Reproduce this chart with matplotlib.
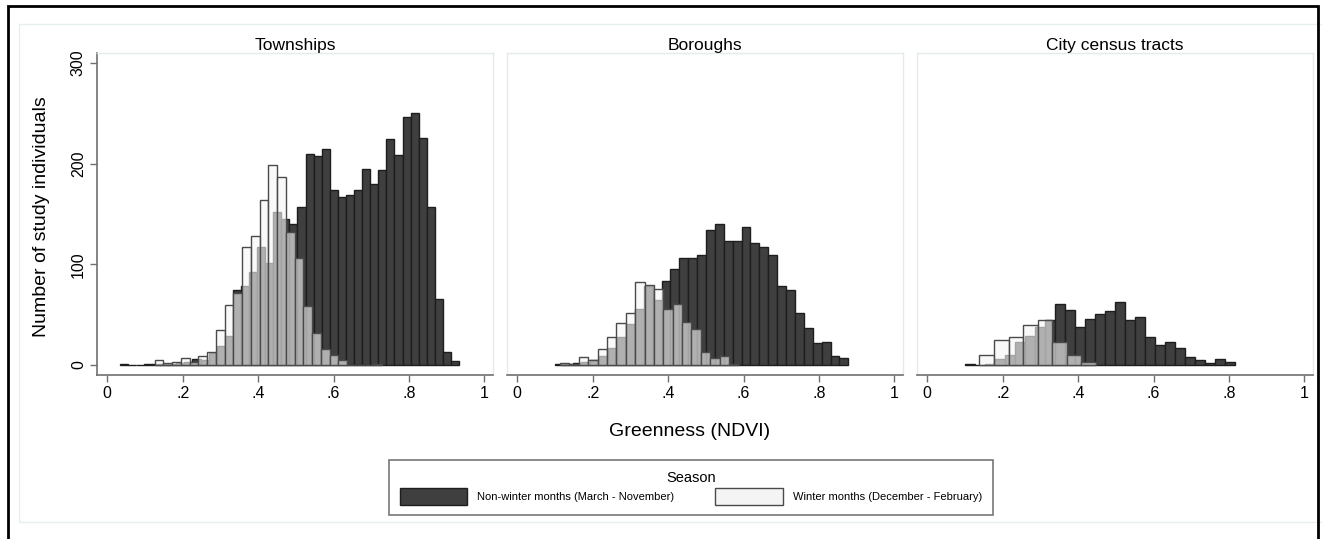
import numpy as np
import matplotlib.pyplot as plt
from matplotlib.patches import Patch, Rectangle

plt.rcParams['font.family'] = ['Liberation Sans', 'DejaVu Sans']

panels = ['Townships', 'Boroughs', 'City census tracts']

# non-winter months (March - November): bin start, bin width, counts
dark_start = [0.033, 0.0993, 0.1005]
dark_width = [0.02143, 0.0236, 0.02654]
twp_dark = [1, 0, 0, 1, 1, 1, 1, 2, 3, 6, 5, 12, 19, 29, 74, 78, 92, 117, 101, 152,
            145, 140, 157, 210, 208, 215, 174, 167, 169, 174, 195, 180, 194, 225, 209,
            246, 250, 226, 157, 66, 13, 4]
bor_dark = [1, 1, 2, 3, 5, 9, 17, 28, 41, 56, 78, 65, 83, 95, 106, 106, 109, 134, 140,
            123, 123, 137, 121, 117, 109, 78, 74, 52, 37, 22, 23, 9, 7]
cen_dark = [1, 0, 1, 6, 10, 23, 29, 38, 45, 61, 55, 38, 46, 51, 54, 63, 45, 48, 28, 20,
            23, 17, 8, 5, 2, 6, 3]

# winter months (December - February)
win_start = [0.1254, 0.1133, 0.138]
win_width = [0.0232, 0.0249, 0.0387]
twp_win = [5, 2, 3, 7, 3, 9, 13, 35, 60, 71, 117, 128, 164, 199, 187, 132, 106, 59, 32,
           16, 10, 5, 0, 0, 0, 1]
bor_win = [2, 1, 8, 5, 16, 28, 42, 52, 82, 79, 75, 56, 61, 43, 36, 13, 7, 9, 1]
cen_win = [10, 25, 28, 40, 45, 23, 10, 3]

dark_counts = [twp_dark, bor_dark, cen_dark]
win_counts = [twp_win, bor_win, cen_win]

xticks = [0, 0.2, 0.4, 0.6, 0.8, 1]
xlabels = ['0', '.2', '.4', '.6', '.8', '1']
yticks = [0, 100, 200, 300]

dark_col = '#3f3f3f'
win_col = (0.965, 0.965, 0.965, 0.62)
box_col = '#e3ebeb'
axis_col = '#707070'

W, H = 1322, 539
fig = plt.figure(figsize=(W / 100, H / 100), dpi=100)

lefts = [97, 507, 917]
for i in range(3):
    ax = fig.add_axes([lefts[i] / W, 1 - 375 / H, 396 / W, 322 / H])
    d = np.array(dark_counts[i])
    e = dark_start[i] + dark_width[i] * np.arange(len(d))
    ax.bar(e, d, width=dark_width[i], align='edge', color=dark_col,
           edgecolor='#1e1e1e', linewidth=1.0, zorder=2)
    w = np.array(win_counts[i])
    e = win_start[i] + win_width[i] * np.arange(len(w))
    ax.bar(e, w, width=win_width[i], align='edge', color=win_col,
           edgecolor='#4a4a4a', linewidth=1.0, zorder=3)

    ax.set_xlim(-0.0273, 1.023)
    ax.set_ylim(-10, 310)
    ax.set_xticks(xticks)
    ax.set_xticklabels(xlabels)
    ax.tick_params(axis='x', direction='out', length=5, width=1, color=axis_col,
                   labelsize=11.5, pad=3)
    for s in ['top', 'right', 'left']:
        ax.spines[s].set_color(box_col)
        ax.spines[s].set_linewidth(1)
    ax.spines['bottom'].set_color(axis_col)
    ax.spines['bottom'].set_linewidth(1.2)
    if i == 0:
        ax.set_yticks(yticks)
        ax.set_yticklabels([str(t) for t in yticks], rotation=90, va='center')
        ax.tick_params(axis='y', direction='out', length=5, width=1, color=axis_col,
                       labelsize=11.5, pad=3)
        ax.spines['left'].set_color(axis_col)
        ax.spines['left'].set_linewidth(1.2)
    else:
        ax.set_yticks([])
    ax.set_title(panels[i], fontsize=12.5, pad=2)

fig.text(690 / W, 1 - 432 / H, 'Greenness (NDVI)', ha='center', va='center', fontsize=14)
fig.text(42 / W, 1 - 217 / H, 'Number of study individuals', ha='center', va='center',
         rotation=90, fontsize=14)

handles = [Patch(facecolor=dark_col, edgecolor='#1e1e1e'),
           Patch(facecolor='#f4f4f4', edgecolor='#4a4a4a')]
labels = ['Non-winter months (March - November)', 'Winter months (December - February)']
leg = fig.legend(handles, labels, ncol=2, title='Season', loc='upper left',
                 bbox_to_anchor=(389 / W, 1 - 460 / H, 604 / W, 0), mode='expand',
                 fontsize=8, title_fontsize=10.5, handlelength=6.1, handleheight=1.95,
                 handletextpad=0.9, borderpad=0.95, labelspacing=0.3, borderaxespad=0,
                 frameon=True, fancybox=False, edgecolor='#555555')
leg.get_frame().set_linewidth(1.2)

# page frames
fig.add_artist(Rectangle((19 / W, 1 - 522 / H), 1.05, (522 - 24) / H, fill=False,
                         edgecolor='#e6eeee', linewidth=1, transform=fig.transFigure))
fig.add_artist(Rectangle((8 / W, -0.05), (1318 - 8) / W, 1.05 - 6 / H, fill=False,
                         edgecolor='black', linewidth=2, transform=fig.transFigure))

fig.savefig('out.png', dpi=100)
